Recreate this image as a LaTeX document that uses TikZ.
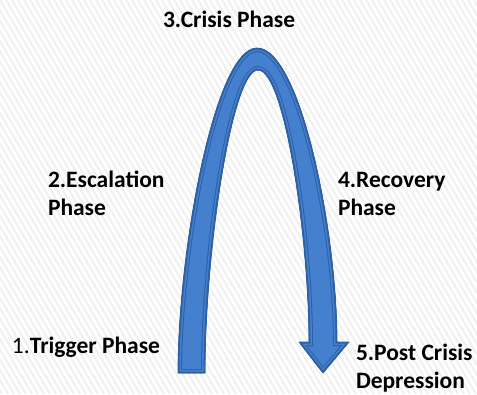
\documentclass[tikz,border=0pt]{standalone}
\usepackage{fontspec}
\setmainfont{Carlito}
\definecolor{arcfill}{RGB}{68,128,206}
\definecolor{arcedge}{RGB}{46,96,164}
\definecolor{stripe}{RGB}{240,240,240}

\def\arcshape{(178,373) .. controls (178,250) and (215,48) .. (257,48)
 .. controls (300,48) and (337,230) .. (337,342)
 -- (349,342) -- (323,373) -- (299,342) -- (309,342)
 .. controls (309,240) and (285,70) .. (258,70)
 .. controls (232,70) and (205,250) .. (205,373) -- cycle}

\begin{document}
\begin{tikzpicture}[x=1pt,y=-1pt,
phasetext/.style={anchor=base west,inner sep=0pt,outer sep=0pt,align=left,font=\fontsize{23.5}{28}\selectfont\bfseries},
bgline/.style={stripe,line width=2pt}]

\useasboundingbox (0,0) rectangle (477,394);
\begin{scope}
\clip (0,0) rectangle (477,394);
\foreach \s in {-240,-234,...,480} \draw[bgline] (\s,0) -- ++(230,394);
\end{scope}

% the arrow
\begin{scope}
\clip \arcshape;
\fill[arcfill] \arcshape;
\draw[arcedge,line width=8pt] \arcshape;
\draw[arcfill,line width=6pt] \arcshape;
\draw[arcedge,line width=3pt] \arcshape;
\end{scope}
\draw[arcedge,line width=0.8pt,line join=round] \arcshape;

% multi-line nodes sit on their last line
\node[phasetext] (crisis) at (163,27) {3.Crisis Phase};
\node[phasetext] (escal) at (48,215) {2.Escalation\\Phase};
\node[phasetext] (recov) at (338,215) {4.Recovery\\Phase};
\node[phasetext] (trigger) at (12,353) {\mdseries 1.\bfseries Trigger Phase};
\node[phasetext] (post) at (356,388) {5.Post Crisis\\Depression};

\end{tikzpicture}
\end{document}
